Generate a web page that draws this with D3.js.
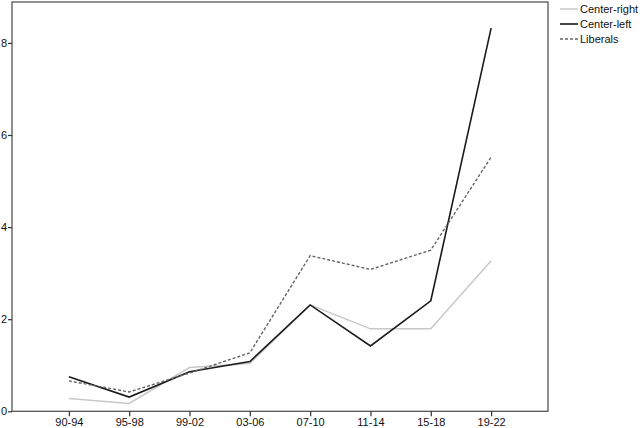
<!DOCTYPE html>
<html><head><meta charset="utf-8">
<script src="https://cdn.jsdelivr.net/npm/d3@7"></script>
<style>body{margin:0;background:#fff}svg{display:block}text{font-family:"Liberation Sans",Arial,sans-serif}</style>
</head><body><svg id="c" width="640" height="428"></svg>
<script>
const categories = ["90-94","95-98","99-02","03-06","07-10","11-14","15-18","19-22"];
const centerRight = [0.28,0.17,0.95,1.04,2.31,1.79,1.79,3.27];
const centerLeft  = [0.75,0.31,0.86,1.08,2.31,1.42,2.40,8.32];
const liberals    = [0.66,0.42,0.83,1.27,3.38,3.08,3.50,5.52];
const yTicks = [0,2,4,6,8];
const seriesNames = ["Center-right","Center-left","Liberals"];

const series = [
  {name: seriesNames[0], values: centerRight, color:"#c8c8c8", width:1.5, dash:null},
  {name: seriesNames[1], values: centerLeft,  color:"#1a1a1a", width:1.6, dash:null},
  {name: seriesNames[2], values: liberals,    color:"#666666", width:1.4, dash:"3,2"}
];

const svg = d3.select("#c");
const L=12, T=2, R=548, B=411.3;
const x = d3.scalePoint().domain(categories).range([L,R]).padding(0.943);
const y = d3.scaleLinear().domain([0,8]).range([B, B-8*46.05]);

// frame
svg.append("rect").attr("x",L).attr("y",T).attr("width",R-L).attr("height",B-T)
  .attr("fill","none").attr("stroke","#555").attr("stroke-width",1.3);

const xa = svg.append("g").attr("transform",`translate(0,${B})`)
  .call(d3.axisBottom(x).tickSize(5).tickPadding(2));
xa.select(".domain").remove();
xa.selectAll("line").attr("stroke","#333").attr("stroke-width",1.2);
xa.selectAll("text").attr("font-size",11).attr("fill","#111");

const ya = svg.append("g").attr("transform",`translate(${L},0)`)
  .call(d3.axisLeft(y).tickValues(yTicks).tickSize(4).tickPadding(1));
ya.select(".domain").remove();
ya.selectAll("line").attr("stroke","#333").attr("stroke-width",1.2);
ya.selectAll("text").attr("font-size",11).attr("fill","#111");

const line = d3.line().x((d,i)=>x(categories[i])).y(d=>y(d));
series.forEach(s=>{
  svg.append("path").datum(s.values).attr("d",line)
    .attr("fill","none").attr("stroke",s.color).attr("stroke-width",s.width)
    .attr("stroke-dasharray",s.dash).attr("stroke-linejoin","miter");
});

// legend
const lg = svg.append("g");
series.forEach((s,i)=>{
  const yy = 9 + i*15;
  lg.append("line").attr("x1",560).attr("x2",578).attr("y1",yy).attr("y2",yy)
    .attr("stroke",s.color).attr("stroke-width",s.width).attr("stroke-dasharray",s.dash);
  lg.append("text").attr("x",580).attr("y",yy).attr("dy","0.35em")
    .attr("font-size",11).attr("fill","#111").text(s.name);
});
</script></body></html>
